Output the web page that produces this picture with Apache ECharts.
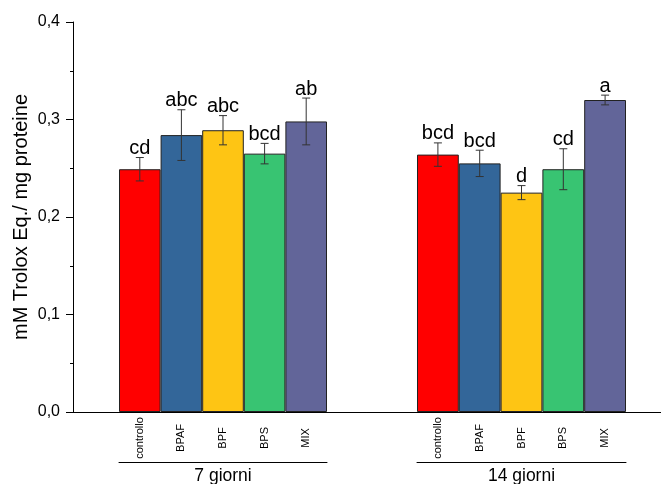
<!DOCTYPE html>
<html>
<head>
<meta charset="utf-8">
<script src="https://cdn.jsdelivr.net/npm/echarts@6/dist/echarts.min.js"></script>
<style>
html,body{margin:0;padding:0;background:#fff;}
#chart{width:661px;height:484px;}
</style>
</head>
<body>
<div id="chart"></div>
<script>
const groups = ['7 giorni', '14 giorni'];
const categories = ['controllo', 'BPAF', 'BPF', 'BPS', 'MIX'];
const values7 = [0.249, 0.284, 0.289, 0.265, 0.298];
const errors7 = [0.012, 0.026, 0.015, 0.0105, 0.024];
const letters7 = ['cd', 'abc', 'abc', 'bcd', 'ab'];
const values14 = [0.264, 0.255, 0.225, 0.249, 0.320];
const errors14 = [0.012, 0.0135, 0.0072, 0.021, 0.005];
const letters14 = ['bcd', 'bcd', 'd', 'cd', 'a'];
const yMin = 0, yMax = 0.4, yInterval = 0.1;
const yTitle = 'mM Trolox Eq./ mg proteine';
const barColors = ['#ff0000', '#336699', '#fec514', '#38c472', '#626599'];

const FONT = 'Arial, "Liberation Sans", sans-serif';
const chart = echarts.init(document.getElementById('chart'), null, {renderer: 'canvas'});

const TOP = 22, BOTTOM = 72;
const gridPos = [{left: 119, width: 208}, {left: 417, width: 209}];

function catAxis(gi) {
  return {
    type: 'category', gridIndex: gi + 1, data: categories,
    axisLine: {show: false}, axisTick: {show: false},
    axisLabel: {rotate: 90, align: 'center', verticalAlign: 'middle', margin: 26,
      fontSize: 11, color: '#000', fontFamily: FONT, interval: 0}
  };
}
function groupAxis(gi) {
  return {
    type: 'category', gridIndex: gi + 1, data: categories, position: 'bottom', offset: 50,
    axisLine: {show: true, lineStyle: {color: '#000', width: 1}},
    axisTick: {show: false}, axisLabel: {show: false},
    name: groups[gi], nameLocation: 'middle', nameGap: 14, nameMoveOverlap: false,
    nameTextStyle: {fontSize: 17.5, color: '#000', fontFamily: FONT, verticalAlign: 'middle'}
  };
}
function hiddenY(gi) {
  return {type: 'value', gridIndex: gi + 1, min: yMin, max: yMax, show: false};
}
function barSeries(gi, vals) {
  return {
    type: 'bar', xAxisIndex: 1 + gi * 2, yAxisIndex: gi + 1,
    barCategoryGap: 0,
    data: vals.map((v, i) => ({value: v, itemStyle: {color: barColors[i]}})),
    itemStyle: {borderColor: '#222', borderWidth: 1},
    silent: true
  };
}
function errSeries(gi, vals, errs, letters) {
  return {
    type: 'custom', xAxisIndex: 1 + gi * 2, yAxisIndex: gi + 1,
    data: vals.map((v, i) => [i, v, errs[i]]),
    encode: {x: 0, y: 1},
    z: 10, silent: true,
    renderItem: function (params, api) {
      const x = api.value(0), v = api.value(1), e = api.value(2);
      const hi = api.coord([x, v + e]);
      const lo = api.coord([x, v - e]);
      const cw = 4;
      const ls = {stroke: '#333', lineWidth: 1};
      return {
        type: 'group',
        children: [
          {type: 'line', shape: {x1: hi[0], y1: hi[1], x2: lo[0], y2: lo[1]}, style: ls},
          {type: 'line', shape: {x1: hi[0] - cw, y1: hi[1], x2: hi[0] + cw, y2: hi[1]}, style: ls},
          {type: 'line', shape: {x1: lo[0] - cw, y1: lo[1], x2: lo[0] + cw, y2: lo[1]}, style: ls},
          {type: 'text', x: hi[0], y: hi[1] + 1,
            style: {text: letters[params.dataIndex], align: 'center', verticalAlign: 'bottom',
              fontSize: 20, fontFamily: FONT, fill: '#000'}}
        ]
      };
    }
  };
}

const option = {
  animation: false,
  backgroundColor: '#fff',
  grid: [
    {left: 73, right: 0, top: TOP, bottom: BOTTOM, containLabel: false, outerBoundsMode: 'none'},
    {left: gridPos[0].left, width: gridPos[0].width, top: TOP, bottom: BOTTOM, containLabel: false, outerBoundsMode: 'none'},
    {left: gridPos[1].left, width: gridPos[1].width, top: TOP, bottom: BOTTOM, containLabel: false, outerBoundsMode: 'none'}
  ],
  xAxis: [
    {type: 'value', gridIndex: 0, min: 0, max: 1,
      axisLine: {show: true, onZero: false, lineStyle: {color: '#000', width: 1}},
      axisTick: {show: false}, axisLabel: {show: false}, splitLine: {show: false}},
    catAxis(0), groupAxis(0), catAxis(1), groupAxis(1)
  ],
  yAxis: [
    {type: 'value', gridIndex: 0, min: yMin, max: yMax, interval: yInterval,
      axisLine: {show: true, lineStyle: {color: '#000', width: 1}},
      axisTick: {show: true, inside: false, length: 7, lineStyle: {color: '#000'}},
      minorTick: {show: true, splitNumber: 2, length: 3, lineStyle: {color: '#000'}},
      splitLine: {show: false},
      axisLabel: {margin: 13, fontSize: 16, color: '#000', fontFamily: FONT,
        formatter: v => v.toFixed(1).replace('.', ',')},
      name: yTitle, nameLocation: 'middle', nameRotate: 90, nameGap: 42, nameMoveOverlap: false,
      nameTextStyle: {fontSize: 20, color: '#000', fontFamily: FONT}},
    hiddenY(0), hiddenY(1)
  ],
  series: [
    barSeries(0, values7), barSeries(1, values14),
    errSeries(0, values7, errors7, letters7), errSeries(1, values14, errors14, letters14)
  ]
};
chart.setOption(option);
</script>
</body>
</html>
